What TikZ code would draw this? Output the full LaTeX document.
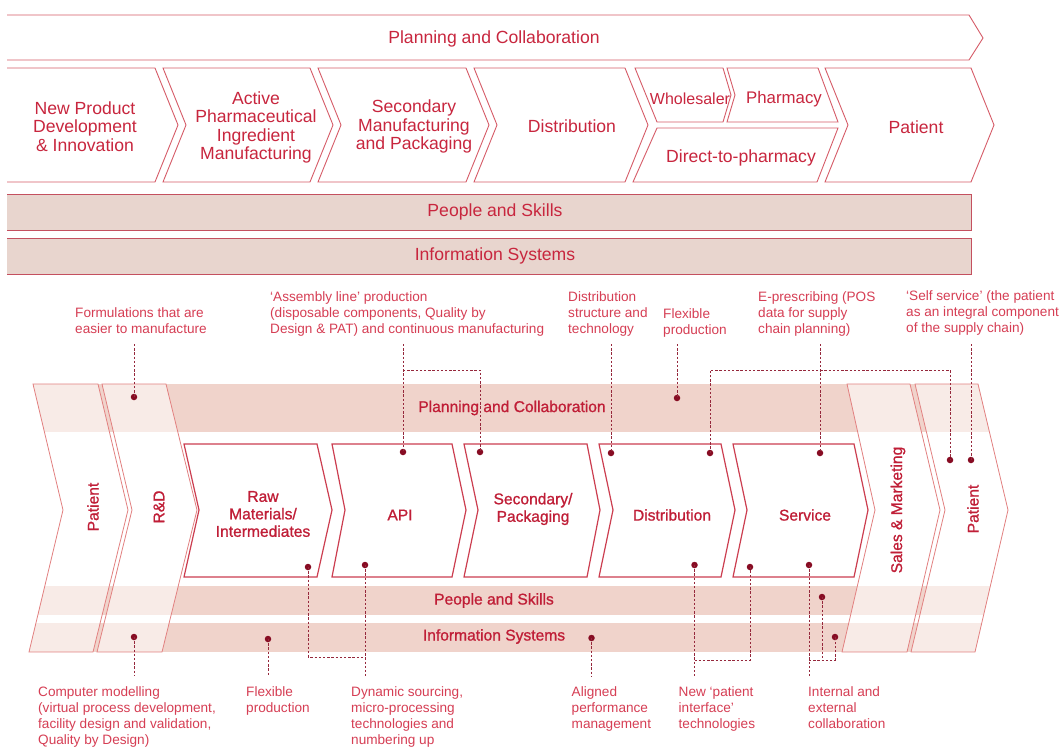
\documentclass[tikz,border=0pt]{standalone}
\usepackage{fontspec}
\setmainfont{Liberation Sans}
\newfontfamily\medfont[FakeBold=1.0]{Liberation Sans}
\definecolor{chevline}{RGB}{214,92,104}
\definecolor{toptext}{RGB}{200,38,62}
\definecolor{topband}{RGB}{232,213,206}
\definecolor{bandline}{RGB}{196,80,95}
\definecolor{lowband}{RGB}{240,211,203}
\definecolor{lightline}{RGB}{226,128,128}
\definecolor{mainline}{RGB}{204,62,80}
\definecolor{lowtext}{RGB}{192,30,55}
\definecolor{anntext}{RGB}{214,62,84}
\definecolor{dotred}{RGB}{135,12,35}
\definecolor{dashred}{RGB}{150,40,60}
\newcommand{\mytopfont}{\fontsize{17.6}{18.5}\selectfont}
\newcommand{\mylowfont}{\medfont\fontsize{15.6}{17.5}\selectfont}
\newcommand{\myannfont}{\fontsize{13.6}{16.0}\selectfont}
\tikzset{
  topchev/.style={draw=chevline, line width=0.9pt, line join=miter},
  toplbl/.style={text=toptext, font=\mytopfont, align=center, inner sep=0pt},
  bandfill/.style={fill=topband},
  bandedge/.style={draw=bandline, line width=0.9pt},
  lightchev/.style={draw=lightline, line width=0.8pt, fill=white, fill opacity=0.55},
  mainchev/.style={draw=mainline, line width=1.2pt, fill=white},
  lowlbl/.style={text=lowtext, font=\mylowfont, align=center, inner sep=0pt},
  annot/.style={text=anntext, font=\myannfont, align=left, inner sep=0pt, anchor=north west},
  pdot/.style={circle, fill=dotred, inner sep=0pt, minimum size=6.5pt},
  dconn/.style={draw=dashred, line width=0.8pt, dash pattern=on 2.4pt off 1.8pt},
}
\begin{document}
\begin{tikzpicture}[x=1pt, y=-1pt]
\useasboundingbox (0,0) rectangle (1059,747);
\fill[white] (0,0) rectangle (1059,747);

% ---------------- Top diagram ----------------
\draw[topchev] (7,15) -- (969,15) -- (983,38) -- (969,60) -- (7,60);
\node[toplbl] (tplan) at (494,39) {Planning and Collaboration};

\draw[topchev] (7,68) -- (155,68) -- (178,125) -- (155,182) -- (7,182);
\node[toplbl] (tnpd) at (85,126.5) {New Product\\Development\\\& Innovation};
\draw[topchev] (163,68) -- (310,68) -- (333,125) -- (310,182) -- (163,182) -- (186,125) -- cycle;
\node[toplbl] (tapi) at (256,127.5) {Active\\Pharmaceutical\\Ingredient\\Manufacturing};
\draw[topchev] (318,68) -- (466,68) -- (489,125) -- (466,182) -- (318,182) -- (341,125) -- cycle;
\node[toplbl] (tsec) at (414,126.5) {Secondary\\Manufacturing\\and Packaging};
\draw[topchev] (474,68) -- (625,68) -- (648,125) -- (625,182) -- (474,182) -- (497,125) -- cycle;
\node[toplbl] (tdist) at (572,126) {Distribution};
\draw[topchev] (635,68) -- (723,68) -- (731,95) -- (723,122) -- (657,122) -- cycle;
\node[toplbl, font=\fontsize{16}{18}\selectfont] (twhole) at (690,99) {Wholesaler};
\draw[topchev] (727,68) -- (818,68) -- (838,122) -- (727,122) -- (735,95) -- cycle;
\node[toplbl, font=\fontsize{16.8}{18}\selectfont] (tpharm) at (784,99) {Pharmacy};
\draw[topchev] (657,128) -- (838,128) -- (817,182) -- (633,182) -- cycle;
\node[toplbl] (tdirect) at (741,158) {Direct-to-pharmacy};
\draw[topchev] (825,68) -- (971,68) -- (994,125) -- (971,182) -- (825,182) -- (848,125) -- cycle;
\node[toplbl] (tpat) at (916,127) {Patient};

\fill[bandfill] (7,194) rectangle (971,230);
\draw[bandedge] (7,194) -- (971,194) -- (971,230) -- (7,230);
\node[toplbl] (tpeople) at (495,212) {People and Skills};
\fill[bandfill] (7,238) rectangle (971,274);
\draw[bandedge] (7,238) -- (971,238) -- (971,274) -- (7,274);
\node[toplbl] (tinfo) at (495,256) {Information Systems};

% ---------------- Lower diagram ----------------
\begin{scope}
\clip (33,384) -- (978,384) -- (1008,510) -- (975,652) -- (29,652) -- (63,510) -- cycle;
\fill[lowband] (0,384) rectangle (1059,432);
\fill[lowband] (0,586) rectangle (1059,615);
\fill[lowband] (0,623) rectangle (1059,652);
\end{scope}

\draw[lightchev] (33,384) -- (98,384) -- (128,510) -- (93,652) -- (29,652) -- (63,510) -- cycle;
\draw[lightchev] (102,384) -- (166,384) -- (197,510) -- (162,652) -- (97,652) -- (132,510) -- cycle;
\draw[lightchev] (847,384) -- (910,384) -- (940,510) -- (907,652) -- (842,652) -- (875,510) -- cycle;
\draw[lightchev] (915,384) -- (978,384) -- (1008,510) -- (975,652) -- (911,652) -- (945,510) -- cycle;

\draw[mainchev] (184,444) -- (317,444) -- (332,510) -- (317,577) -- (184,577) -- (199,510) -- cycle;
\draw[mainchev] (332,444) -- (452,444) -- (466,510) -- (452,577) -- (332,577) -- (345,510) -- cycle;
\draw[mainchev] (464,444) -- (587,444) -- (600,510) -- (587,577) -- (464,577) -- (478,510) -- cycle;
\draw[mainchev] (599,444) -- (721,444) -- (735,510) -- (721,577) -- (599,577) -- (613,510) -- cycle;
\draw[mainchev] (733,444) -- (854,444) -- (868,510) -- (854,577) -- (733,577) -- (747,510) -- cycle;

\node[lowlbl] (lplan) at (512,408) {Planning and Collaboration};
\node[lowlbl] (lpeople) at (494,600.5) {People and Skills};
\node[lowlbl] (linfo) at (494,636.5) {Information Systems};
\node[lowlbl, rotate=90] (lpatl) at (93,507) {Patient};
\node[lowlbl, rotate=90] (lrd) at (159,507) {R\&D};
\node[lowlbl, rotate=90] (lsales) at (898,510) {Sales \& Marketing};
\node[lowlbl, rotate=90] (lpatr) at (973,509) {Patient};
\node[lowlbl] (lraw) at (263,514) {Raw\\Materials/\\Intermediates};
\node[lowlbl] (lapi) at (400,515) {API};
\node[lowlbl] (lsec) at (533,509) {Secondary/\\Packaging};
\node[lowlbl] (ldist) at (672,515) {Distribution};
\node[lowlbl] (lserv) at (805,515) {Service};

% ---------------- Annotations ----------------
\node[annot] (a1) at (75,307.5) {Formulations that are\\easier to manufacture};
\node[annot] (a2) at (270,291.5) {`Assembly line' production\\(disposable components, Quality by\\Design \& PAT) and continuous manufacturing};
\node[annot] (a3) at (568,291.5) {Distribution\\structure and\\technology};
\node[annot] (a4) at (663,308.5) {Flexible\\production};
\node[annot] (a5) at (758,291.5) {E-prescribing (POS\\data for supply\\chain planning)};
\node[annot] (a6) at (906,290.5) {`Self service' (the patient\\as an integral component\\of the supply chain)};
\node[annot] (b1) at (38,686) {Computer modelling\\(virtual process development,\\facility design and validation,\\Quality by Design)};
\node[annot] (b2) at (246,686) {Flexible\\production};
\node[annot] (b3) at (351,686) {Dynamic sourcing,\\micro-processing\\technologies and\\numbering up};
\node[annot] (b4) at (571.5,686) {Aligned\\performance\\management};
\node[annot] (b5) at (678.5,686) {New `patient\\interface'\\technologies};
\node[annot] (b6) at (808,686) {Internal and\\external\\collaboration};

% dots
\node[pdot] (p1) at (134,397) {};
\node[pdot] (p2a) at (403,452) {};
\node[pdot] (p2b) at (480,452) {};
\node[pdot] (p3) at (611,453) {};
\node[pdot] (p4) at (677,398) {};
\node[pdot] (p5) at (820,453) {};
\node[pdot] (p6) at (971,460) {};
\node[pdot] (p7a) at (710,453) {};
\node[pdot] (p7b) at (950,460) {};
\node[pdot] (q1) at (134,637) {};
\node[pdot] (q2) at (268,639) {};
\node[pdot] (q3a) at (308,567) {};
\node[pdot] (q3b) at (365,565) {};
\node[pdot] (q4) at (591.5,638) {};
\node[pdot] (q5a) at (694.5,565) {};
\node[pdot] (q5b) at (750,567) {};
\node[pdot] (q6a) at (809,565) {};
\node[pdot] (q6b) at (822,597) {};
\node[pdot] (q6c) at (835,637) {};

% free ends and elbows
\coordinate (c1) at (134,344);
\coordinate (c2a) at (403,344);
\coordinate (c2b) at (403,370);
\coordinate (c2c) at (480,370);
\coordinate (c3) at (611,344);
\coordinate (c4) at (677,344);
\coordinate (c5) at (820,344);
\coordinate (c6) at (971,344);
\coordinate (c7a) at (710,370);
\coordinate (c7b) at (950,370);
\coordinate (e1) at (134,676);
\coordinate (e2) at (268,676);
\coordinate (e3a) at (308,657);
\coordinate (e3b) at (365,657);
\coordinate (e3c) at (365,676);
\coordinate (e4) at (591.5,676);
\coordinate (e5a) at (694.5,676);
\coordinate (e5b) at (694.5,660);
\coordinate (e5c) at (750,660);
\coordinate (e6a) at (809,676);
\coordinate (e6b) at (809,660);
\coordinate (e6c) at (835,660);
\coordinate (e6d) at (822,660);

% connectors
\draw[dconn] (c1) -- (p1.center);
\draw[dconn] (c2a) -- (p2a.center);
\draw[dconn] (c2b) -- (c2c) -- (p2b.center);
\draw[dconn] (c3) -- (p3.center);
\draw[dconn] (c4) -- (p4.center);
\draw[dconn] (c5) -- (p5.center);
\draw[dconn] (c6) -- (p6.center);
\draw[dconn] (p7a.center) -- (c7a) -- (c7b) -- (p7b.center);
\draw[dconn] (q1.center) -- (e1);
\draw[dconn] (q2.center) -- (e2);
\draw[dconn] (q3a.center) -- (e3a) -- (e3b);
\draw[dconn] (q3b.center) -- (e3c);
\draw[dconn] (q4.center) -- (e4);
\draw[dconn] (q5a.center) -- (e5a);
\draw[dconn] (e5b) -- (e5c) -- (q5b.center);
\draw[dconn] (q6a.center) -- (e6a);
\draw[dconn] (e6b) -- (e6c) -- (q6c.center);
\draw[dconn] (q6b.center) -- (e6d);
\end{tikzpicture}
\end{document}
